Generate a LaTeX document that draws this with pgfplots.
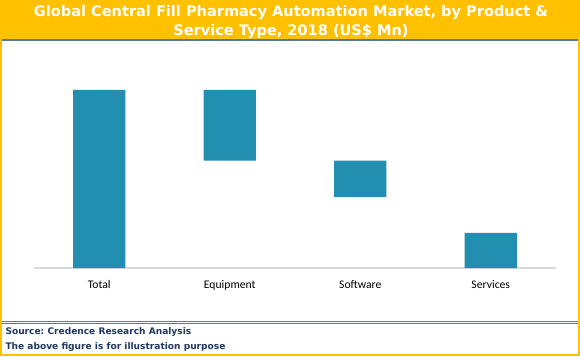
\documentclass[border=0pt]{standalone}
\usepackage{fontspec}
\setmainfont{Carlito}
\newfontfamily\tfont{DejaVu Sans}[BoldFont={DejaVu Sans Bold}]
\usepackage{pgfplots}
\pgfplotsset{compat=1.18}
\frenchspacing
\definecolor{gold}{HTML}{FFC000}
\definecolor{barblue}{HTML}{238FB0}
\definecolor{navy}{HTML}{1F3864}
\definecolor{steel}{HTML}{4F7BAA}
\definecolor{axgray}{HTML}{D9D9D9}
\begin{document}
\begin{tikzpicture}[x=1bp,y=1bp]
\useasboundingbox (0,0) rectangle (580,356);
% title bar
\fill[gold] (0,316) rectangle (580,356);
\draw[steel, line width=1.2bp] (1,316) -- (579,316);
\node[text=white, align=center, font=\tfont\bfseries\fontsize{14.6}{19}\selectfont] at (291,334) {Global Central Fill Pharmacy Automation Market, by Product \&\\Service Type, 2018 (US\$ Mn)};
% footer
\draw[steel, line width=0.9bp] (1,35) -- (579,35);
\draw[steel, line width=0.9bp] (1,32.5) -- (579,32.5);
\node[anchor=west, text=navy, font=\tfont\bfseries\fontsize{9.1}{11}\selectfont] at (2,24) {Source: Credence Research Analysis};
\node[anchor=west, text=navy, font=\tfont\bfseries\fontsize{9.1}{11}\selectfont] at (2,9) {The above figure is for illustration purpose};
% outer border
\draw[gold, line width=2bp] (1,0) -- (1,356);
\draw[gold, line width=2bp] (579,0) -- (579,356);
\draw[gold, line width=2bp] (0,1) -- (580,1);
\begin{axis}[
  at={(34bp,88bp)}, anchor=south west,
  scale only axis, width=522bp, height=213.6bp,
  xmin=-0.5, xmax=3.5, ymin=0, ymax=120,
  axis y line=none,
  axis x line*=bottom,
  x axis line style={axgray, line width=1.2bp, -},
  xtick={0,1,2,3},
  xticklabels={Total,Equipment,Software,Services},
  major tick length=0pt,
  xticklabel style={font=\fontsize{11.7}{13}\selectfont, yshift=-9bp},
  ybar stacked, bar width=0.4,
  clip=false,
]
\addplot[draw=none, fill=none] coordinates {(0,0) (1,60.3) (2,39.9) (3,0)};
\addplot[draw=none, fill=barblue] coordinates {(0,100) (1,39.7) (2,20.4) (3,19.7)};
\end{axis}
\end{tikzpicture}
\end{document}
